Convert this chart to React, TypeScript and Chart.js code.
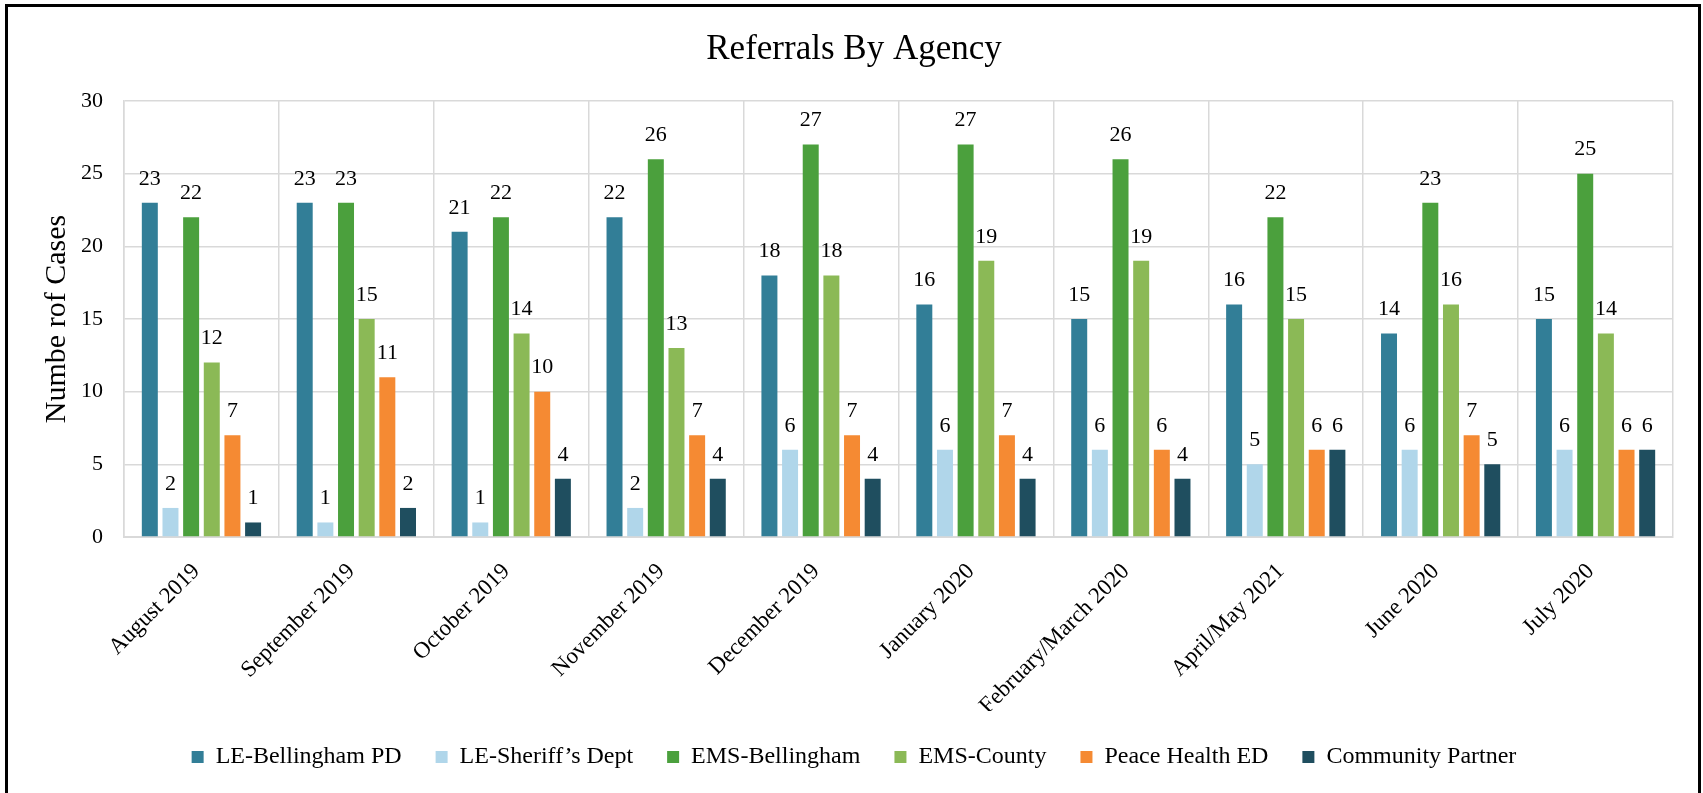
import React, { useEffect, useRef } from "react";
import { Chart, registerables } from "chart.js";

Chart.register(...registerables);

const categories = [
  "August 2019",
  "September 2019",
  "October 2019",
  "November 2019",
  "December 2019",
  "January 2020",
  "February/March 2020",
  "April/May 2021",
  "June 2020",
  "July 2020",
];

const seriesNames = [
  "LE-Bellingham PD",
  "LE-Sheriff\u2019s Dept",
  "EMS-Bellingham",
  "EMS-County",
  "Peace Health ED",
  "Community Partner",
];

const leBellinghamPD = [23, 23, 21, 22, 18, 16, 15, 16, 14, 15];
const leSheriffsDept = [2, 1, 1, 2, 6, 6, 6, 5, 6, 6];
const emsBellingham = [22, 23, 22, 26, 27, 27, 26, 22, 23, 25];
const emsCounty = [12, 15, 14, 13, 18, 19, 19, 15, 16, 14];
const peaceHealthED = [7, 11, 10, 7, 7, 7, 6, 6, 7, 6];
const communityPartner = [1, 2, 4, 4, 4, 4, 4, 6, 5, 6];

const seriesColors = ["#327E97", "#B0D6EA", "#4BA03D", "#8BB956", "#F58A33", "#1F4E5F"];

const yMin = 0;
const yMax = 30;
const yStep = 5;

const FONT = "'Liberation Serif', 'Times New Roman', serif";

const dataLabelPlugin = {
  id: "dataLabels",
  afterDatasetsDraw(chart: any) {
    const ctx = chart.ctx;
    ctx.save();
    ctx.font = `22px ${FONT}`;
    ctx.fillStyle = "#000";
    ctx.textAlign = "center";
    ctx.textBaseline = "middle";
    chart.data.datasets.forEach((ds: any, i: number) => {
      const meta = chart.getDatasetMeta(i);
      meta.data.forEach((el: any, j: number) => {
        ctx.fillText(String(ds.data[j]), el.x, el.y - 24);
      });
    });
    ctx.restore();
  },
};

export default function App() {
  const canvasRef = useRef<HTMLCanvasElement | null>(null);

  useEffect(() => {
    if (!canvasRef.current) return;
    const allSeries = [leBellinghamPD, leSheriffsDept, emsBellingham, emsCounty, peaceHealthED, communityPartner];
    const chart = new Chart(canvasRef.current, {
      type: "bar",
      data: {
        labels: categories,
        datasets: allSeries.map((d, i) => ({
          label: seriesNames[i],
          data: d,
          backgroundColor: seriesColors[i],
          borderWidth: 0,
          categoryPercentage: 0.8,
          barPercentage: 0.774,
        })),
      },
      options: {
        animation: false,
        responsive: false,
        maintainAspectRatio: false,
        layout: { padding: { top: 10, left: 35, right: 30, bottom: 14 } },
        plugins: {
          title: {
            display: true,
            text: "Referrals By Agency",
            color: "#000",
            font: { family: FONT, size: 35, weight: "normal" },
            padding: { top: 19, bottom: 30 },
          },
          legend: {
            position: "bottom",
            labels: {
              boxWidth: 12,
              boxHeight: 12,
              padding: 34,
              color: "#000",
              font: { family: FONT, size: 24 },
            },
          },
          tooltip: { enabled: false },
        },
        scales: {
          x: {
            grid: { color: "#D9D9D9", drawTicks: false, offset: true, lineWidth: 1.5 },
            border: { color: "#D9D9D9", width: 2 },
            ticks: {
              maxRotation: 45,
              minRotation: 45,
              autoSkip: false,
              padding: 21,
              labelOffset: -5,
              color: "#000",
              font: { family: FONT, size: 23 },
            },
            afterFit: (scale: any) => {
              scale.paddingLeft = 0;
              scale.paddingRight = 0;
              scale.height = 174;
            },
          },
          y: {
            min: yMin,
            max: yMax,
            grid: { color: "#D9D9D9", drawTicks: false, lineWidth: 1.5 },
            border: { color: "#D9D9D9", width: 1.5 },
            ticks: {
              stepSize: yStep,
              padding: 21,
              color: "#000",
              font: { family: FONT, size: 22 },
            },
            title: {
              display: true,
              text: "Numbe rof Cases",
              color: "#000",
              font: { family: FONT, size: 30 },
            },
            afterFit: (scale: any) => {
              scale.width = 89;
            },
          },
        },
      },
      plugins: [dataLabelPlugin],
    });
    return () => chart.destroy();
  }, []);

  return (
    <div
      style={{
        position: "absolute",
        left: 0,
        top: 0,
        width: 1703,
        height: 793,
        overflow: "hidden",
        background: "#fff",
      }}
    >
      <canvas
        ref={canvasRef}
        width={1703}
        height={793}
        style={{ position: "absolute", left: 0, top: 0, width: 1703, height: 793 }}
      />
      <div
        style={{
          position: "absolute",
          left: 5,
          top: 4,
          width: 1696,
          height: 900,
          border: "3px solid #000",
          boxSizing: "border-box",
          pointerEvents: "none",
        }}
      />
    </div>
  );
}
